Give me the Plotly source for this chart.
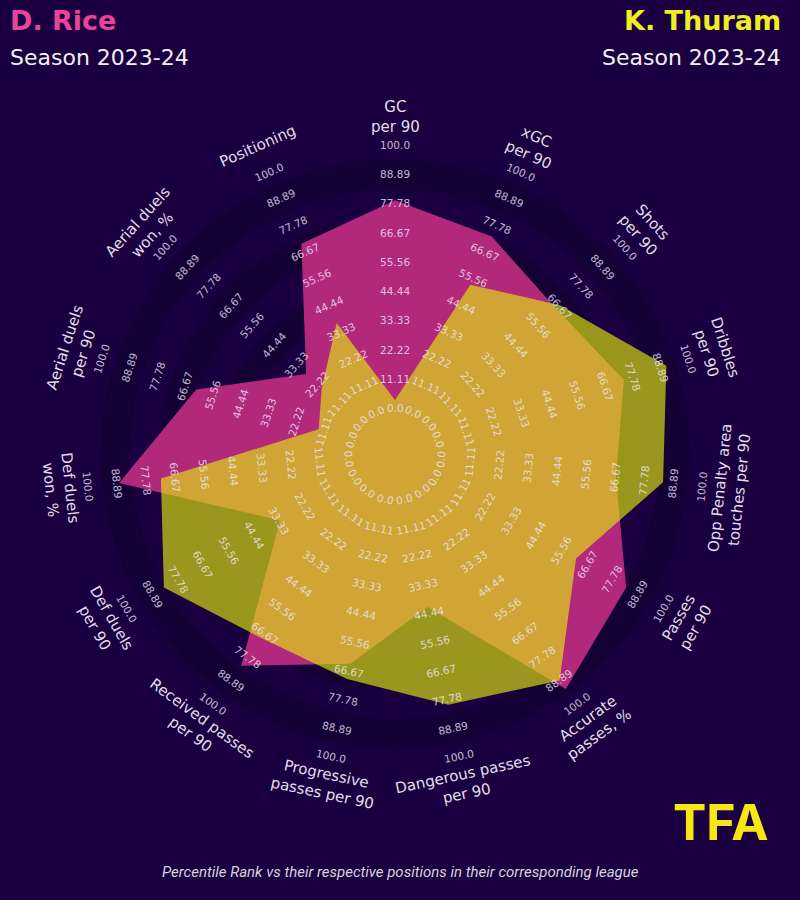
import plotly.graph_objects as go
import math

# ---------------- data ----------------
params = ["GC<br>per 90", "xGC<br>per 90", "Shots<br>per 90", "Dribbles<br>per 90",
          "Opp Penalty area<br>touches per 90", "Passes<br>per 90", "Accurate<br>passes, %",
          "Dangerous passes<br>per 90", "Progressive<br>passes per 90", "Received passes<br>per 90",
          "Def duels<br>per 90", "Def duels<br>won, %", "Aerial duels<br>per 90",
          "Aerial duels<br>won, %", "Positioning"]
rice = [79, 73, 65, 74, 67, 84, 93, 42, 64, 82, 33, 88, 62, 28, 70]
thuram = [3, 53, 67, 91, 85, 62, 89, 80, 70, 69, 84, 72, 13, 20, 37]
ring_values = [0.0, 11.11, 22.22, 33.33, 44.44, 55.56, 66.67, 77.78, 88.89, 100.0]
ring_labels = ["0.0", "11.11", "22.22", "33.33", "44.44", "55.56", "66.67", "77.78", "88.89", "100.0"]
player1, player2 = "D. Rice", "K. Thuram"
season = "Season 2023-24"
footer = "Percentile Rank vs their respective positions in their corresponding league"

# ---------------- style / layout ----------------
W, H = 800, 900
BG = "#1a0040"
RING_DARK = "#150036"
RING_LIGHT = "#1a0041"
CX, CY, ROUT = 395, 454, 323.6        # pixel centre and outer radius of radar
CENTER_R = 31.4                      # inner circle radius (px)
STEP = ring_values[1]
PX_PER_UNIT = (ROUT - CENTER_R) / (len(ring_values) * STEP)
RMAX = 100 + STEP / 2
RMIN = -STEP / 2 - CENTER_R / PX_PER_UNIT   # value at the very centre

n = len(params)
theta = [i * 360 / n for i in range(n)]

xd = [(CX - ROUT) / W, (CX + ROUT) / W]
yd = [(H - CY - ROUT) / H, (H - CY + ROUT) / H]

fig = go.Figure()

# centre circle + concentric rings
fig.add_trace(go.Barpolar(
    r=[-STEP / 2 - RMIN], base=[RMIN], theta=[0], width=[360],
    marker=dict(color=RING_LIGHT, line=dict(width=0)), hoverinfo="skip", showlegend=False))
for i, v in enumerate(ring_values):
    fig.add_trace(go.Barpolar(
        r=[STEP], base=[v - STEP / 2], theta=[0], width=[360],
        marker=dict(color=RING_DARK if i % 2 == 0 else RING_LIGHT, line=dict(width=0)),
        hoverinfo="skip", showlegend=False))

# player polygons
fig.add_trace(go.Scatterpolar(
    r=rice + [rice[0]], theta=theta + [theta[0]], mode="lines", fill="toself",
    fillcolor="rgb(178,41,124)", line=dict(width=0, color="rgba(0,0,0,0)"),
    name=player1, showlegend=False))
fig.add_trace(go.Scatterpolar(
    r=thuram + [thuram[0]], theta=theta + [theta[0]], mode="lines", fill="toself",
    fillcolor="rgba(225,230,15,0.65)", line=dict(width=0, color="rgba(0,0,0,0)"),
    name=player2, showlegend=False))

# invisible cartesian overlay (units = outer radius) for rotated labels
fig.add_trace(go.Scatter(x=[0], y=[0], mode="markers", marker=dict(opacity=0),
                         hoverinfo="skip", showlegend=False, xaxis="x", yaxis="y"))


def frac(v):
    return (CENTER_R + (v - (-STEP / 2)) * PX_PER_UNIT) / ROUT


def rot_for(ang):
    a = (ang + 180) % 360 - 180
    return a - 90 if a >= 0 else a + 90


annotations = []
for i, p in enumerate(params):
    ang = 90 - theta[i]
    rot = rot_for(ang)
    ca, sa = math.cos(math.radians(ang)), math.sin(math.radians(ang))
    for v, lab in zip(ring_values, ring_labels):
        f = frac(v)
        annotations.append(dict(x=f * ca, y=f * sa, xref="x", yref="y", text=lab,
                                showarrow=False, textangle=-rot,
                                font=dict(family="DejaVu Sans", size=10.5, color="rgba(238,232,248,0.8)"),
                                xanchor="center", yanchor="middle"))
    f = 337 / ROUT
    annotations.append(dict(x=f * ca, y=f * sa, xref="x", yref="y", text=p,
                            showarrow=False, textangle=-rot,
                            font=dict(family="DejaVu Sans", size=15, color="#e2dcec"),
                            xanchor="center", yanchor="middle"))

# titles
annotations += [
    dict(x=8 / W, y=1 - 20 / H, xref="paper", yref="paper", text=f"<b>{player1}</b>",
         showarrow=False, xanchor="left", yanchor="middle",
         font=dict(family="DejaVu Sans", size=27, color="#e8449a")),
    dict(x=8 / W, y=1 - 57 / H, xref="paper", yref="paper", text=season,
         showarrow=False, xanchor="left", yanchor="middle",
         font=dict(family="DejaVu Sans", size=22, color="#f2f0f6")),
    dict(x=783 / W, y=1 - 20 / H, xref="paper", yref="paper", text=f"<b>{player2}</b>",
         showarrow=False, xanchor="right", yanchor="middle",
         font=dict(family="DejaVu Sans", size=27, color="#eeee22")),
    dict(x=783 / W, y=1 - 57 / H, xref="paper", yref="paper", text=season,
         showarrow=False, xanchor="right", yanchor="middle",
         font=dict(family="DejaVu Sans", size=22, color="#f2f0f6")),
    dict(x=400 / W, y=1 - 872 / H, xref="paper", yref="paper", text=f"<i>{footer}</i>",
         showarrow=False, xanchor="center", yanchor="middle",
         font=dict(family="Roboto", size=15, color="#d6d2de")),
    dict(x=721 / W, y=1 - 822 / H, xref="paper", yref="paper", text="<b>TFA</b>",
         showarrow=False, xanchor="center", yanchor="middle",
         font=dict(family="Inter", size=50, color="#f5e614", weight=900)),
]

fig.update_layout(
    width=W, height=H, margin=dict(l=0, r=0, t=0, b=0),
    paper_bgcolor=BG, plot_bgcolor="rgba(0,0,0,0)",
    barmode="overlay",
    polar=dict(
        domain=dict(x=xd, y=yd), hole=0, bgcolor="rgba(0,0,0,0)",
        radialaxis=dict(range=[RMIN, RMAX], visible=False, showgrid=False),
        angularaxis=dict(rotation=90, direction="clockwise", visible=False, showgrid=False),
    ),
    xaxis=dict(domain=[0, 1], range=[-CX / ROUT, (W - CX) / ROUT], visible=False, fixedrange=True),
    yaxis=dict(domain=[0, 1], range=[-(H - CY) / ROUT, CY / ROUT], visible=False, fixedrange=True),
    annotations=annotations,
    showlegend=False,
)

fig.write_html("out.html", config={"displayModeBar": False},
               post_script="document.body.style.margin='0';document.body.style.background='#1a0040';")
